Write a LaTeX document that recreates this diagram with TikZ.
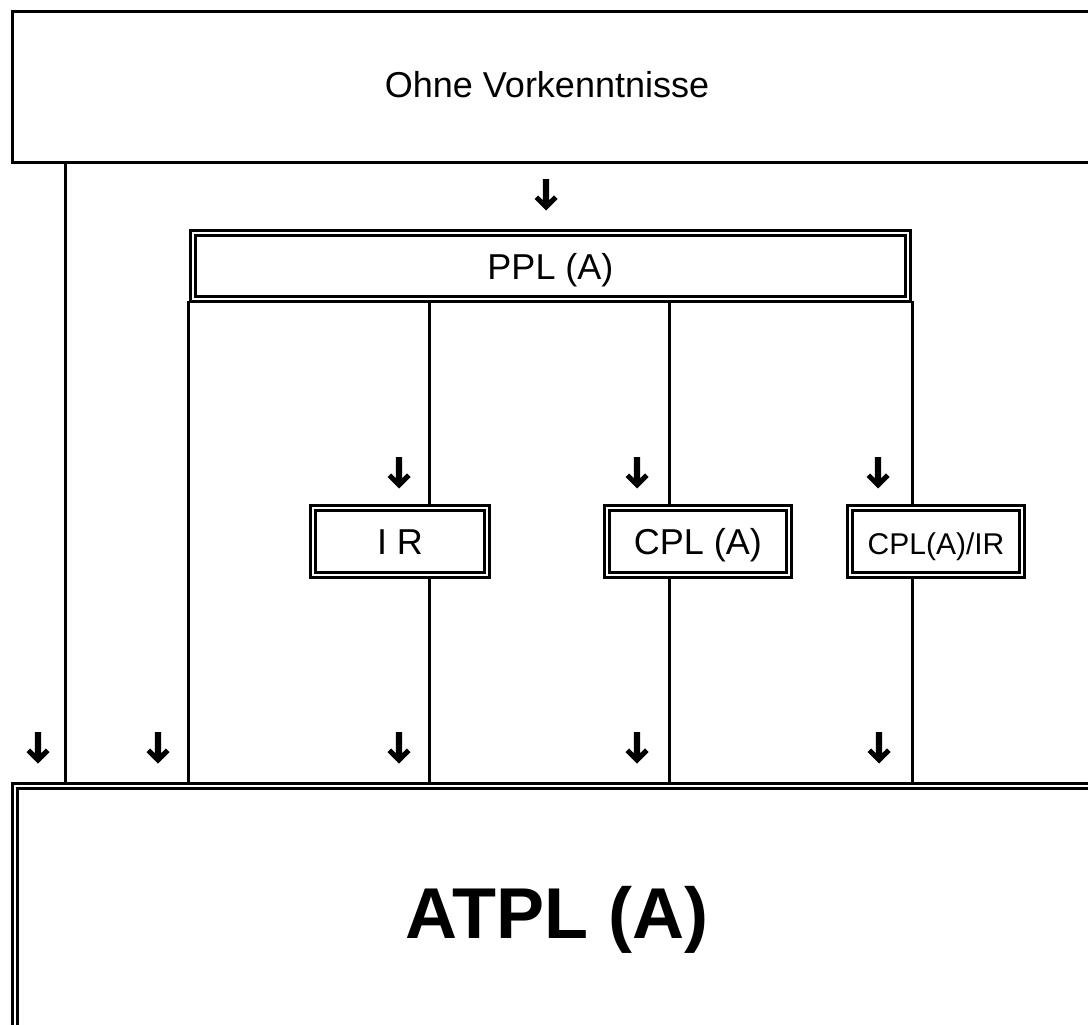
\documentclass[tikz,border=0pt]{standalone}
\usepackage{fontspec}
\setmainfont{Liberation Sans}
\usetikzlibrary{backgrounds}
\tikzset{
  box/.style={draw, line width=3pt, inner sep=0pt},
  dbox/.style={draw, line width=3pt, double=white, double distance=2pt, fill=white, inner sep=0pt},
  conn/.style={line width=3pt},
  lbl/.style={anchor=base, inner sep=0pt, font=\fontsize{36}{40}\selectfont},
  darr/.pic={\fill (-3.2,0) -- (3.2,0) -- (3.2,21.2) -- (7.96,16.46) -- (11.5,20) -- (0,31.5) -- (-11.5,20) -- (-7.96,16.46) -- (-3.2,21.2) -- cycle;}
}
\begin{document}
\begin{tikzpicture}[x=1pt,y=-1pt]
\path[use as bounding box] (0,0) rectangle (1088,1025);
\clip (0,0) rectangle (1088,1025);
% boxes
\node[box, anchor=north west, minimum width=1200pt, minimum height=150pt] (ohne) at (10.5,10.5) {};
\node[lbl] (ohnet) at (547,98) {Ohne Vorkenntnisse};
\node[dbox, minimum width=715pt, minimum height=66pt, text height=26pt, text depth=0pt, font=\fontsize{36}{40}\selectfont] (ppl) at (550.5,266) {PPL (A)};
\node[dbox, minimum width=174pt, minimum height=67pt, text height=25pt, text depth=0pt, font=\fontsize{36}{40}\selectfont] (ir) at (400,541.5) {I R};
\node[dbox, minimum width=182pt, minimum height=67pt, text height=25pt, text depth=0pt, font=\fontsize{36}{40}\selectfont] (cpl) at (698,541.5) {CPL (A)};
\node[dbox, minimum width=172pt, minimum height=67pt, text height=25pt, text depth=0pt, font=\fontsize{30}{34}\selectfont] (cplir) at (936,541.5) {CPL(A)/IR};
\node[dbox, anchor=north west, minimum width=1200pt, minimum height=400pt] (atpl) at (13,784) {};
\node[anchor=base, inner sep=0pt, font=\fontsize{72}{80}\selectfont\bfseries] (atplt) at (557,938) {ATPL (A)};
% connector x positions
\coordinate (x65) at (65,0);
\coordinate (x188) at (188,0);
\coordinate (x429) at (429,0);
\coordinate (x669) at (669,0);
\coordinate (x912) at (912,0);
\begin{scope}[on background layer]
\fill[white] (0,0) rectangle (1088,1025);
\draw[conn] (ohne.south -| x65) -- (atpl.north -| x65);
\draw[conn] (ppl.south -| x188) -- (atpl.north -| x188);
\draw[conn] (ppl.south -| x429) -- (ir.north -| x429);
\draw[conn] (ir.south -| x429) -- (atpl.north -| x429);
\draw[conn] (ppl.south -| x669) -- (cpl.north -| x669);
\draw[conn] (cpl.south -| x669) -- (atpl.north -| x669);
\draw[conn] (ppl.south -| x912) -- (cplir.north -| x912);
\draw[conn] (cplir.south -| x912) -- (atpl.north -| x912);
\end{scope}
% arrows
\pic at (546,179) {darr};
\pic at (399,457) {darr};
\pic at (637,457) {darr};
\pic at (878,457) {darr};
\pic at (38,732) {darr};
\pic at (158,732) {darr};
\pic at (399,732) {darr};
\pic at (637,732) {darr};
\pic at (879,732) {darr};
\end{tikzpicture}
\end{document}
